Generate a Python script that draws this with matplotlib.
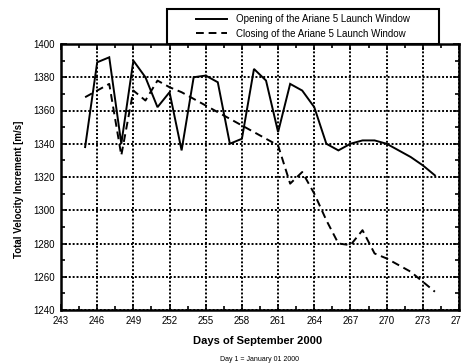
import matplotlib
matplotlib.use("Agg")
import matplotlib.pyplot as plt
from matplotlib.ticker import MultipleLocator
from matplotlib.lines import Line2D
from matplotlib.patches import Rectangle

plt.rcParams['font.family'] = ['Liberation Sans', 'DejaVu Sans']

days = list(range(245, 275))
opening = [1338, 1389, 1392, 1340, 1390, 1380, 1362, 1371, 1336, 1380,
           1381, 1377, 1340, 1343, 1385, 1378, 1347, 1376, 1372, 1362,
           1340, 1336, 1340, 1342, 1342, 1340, 1336, 1332, 1327, 1321]
closing = [1368, 1372, 1376, 1333, 1372, 1366, 1378, 1374, 1371, 1367,
           1363, 1359, 1355, 1351, 1347, 1343, 1339, 1316, 1323, 1310,
           1294, 1280, 1279, 1288, 1274, 1271, 1267, 1263, 1257, 1251]
labels = ["Opening of the Ariane 5 Launch Window",
          "Closing of the Ariane 5 Launch Window"]
xticks = list(range(243, 277, 3))
yticks = list(range(1240, 1401, 20))

W, H = 461, 364
fig = plt.figure(figsize=(W / 100, H / 100), dpi=100)
ax = fig.add_axes([61 / W, 1 - 310 / H, 398 / W, 266 / H])

ax.plot(days, opening, color='black', lw=1.4, solid_joinstyle='miter')
ax.plot(days, closing, color='black', lw=1.4, linestyle=(0, (4, 2.5)))

ax.set_xlim(243, 276)
ax.set_ylim(1240, 1400)
ax.set_xticks(xticks)
ax.set_yticks(yticks)
ax.xaxis.set_minor_locator(MultipleLocator(1.5))
ax.yaxis.set_minor_locator(MultipleLocator(10))
ax.grid(True, which='major', color='black', linestyle=(0, (1, 1)), lw=1.4)
ax.tick_params(which='both', direction='in', top=True, right=True,
               labelsize=7, width=1.2)
ax.tick_params(which='major', length=4)
ax.tick_params(which='minor', length=3)
ax.tick_params(axis='y', pad=4.5)
ax.tick_params(axis='x', pad=4)
for s in ax.spines.values():
    s.set_linewidth(1.8)

fig.text(19 / W, 1 - 189.5 / H, "Total Velocity Increment [m/s]",
         rotation=90, ha='center', va='center', fontsize=7, fontweight='bold')
fig.text(258 / W, 1 - 341 / H, "Days of September 2000",
         ha='center', va='center', fontsize=8, fontweight='bold')
fig.text(260 / W, 1 - 359.5 / H, "Day 1 = January 01 2000",
         ha='center', va='center', fontsize=5)

# legend box
bx0, bx1, by0, by1 = 167, 439, 9, 44
rect = Rectangle((bx0 / W, 1 - by1 / H), (bx1 - bx0) / W, (by1 - by0) / H,
                 transform=fig.transFigure, facecolor='white',
                 edgecolor='black', lw=1.5, zorder=4)
fig.add_artist(rect)
handles = [Line2D([], [], color='black', lw=1.4),
           Line2D([], [], color='black', lw=1.4, linestyle=(0, (4, 2.5)))]
leg = fig.legend(handles, labels, loc='center',
                 bbox_to_anchor=((bx0 + bx1) / 2 / W, 1 - (by0 + by1) / 2 / H),
                 bbox_transform=fig.transFigure, frameon=False, fontsize=7,
                 handlelength=3.2, handletextpad=1.0, labelspacing=0.45,
                 borderpad=0.2)
leg.set_zorder(5)

fig.savefig("out.png", dpi=100)
